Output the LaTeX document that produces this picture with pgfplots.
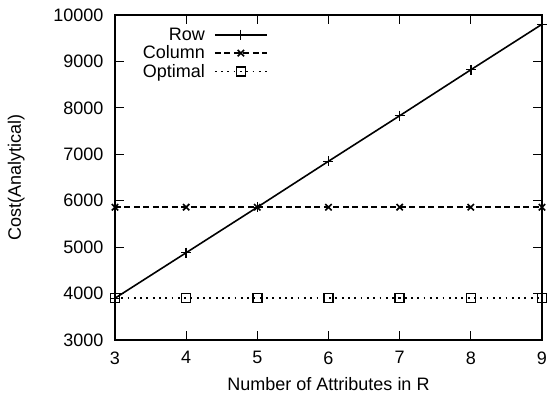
\documentclass[border=0pt]{standalone}
\usepackage{fontspec}
\setmainfont{Liberation Sans}
\usepackage{pgfplots}
\pgfplotsset{compat=1.18}
\begin{document}
\begin{tikzpicture}
\path[use as bounding box] (-115pt,-58pt) rectangle (435pt,340pt);
\begin{axis}[
  scale only axis,
  width=427pt, height=325pt,
  xmin=3, xmax=9, ymin=3000, ymax=10000,
  xtick={3,4,5,6,7,8,9},
  ytick={3000,4000,5000,6000,7000,8000,9000,10000},
  tick align=inside,
  major tick length=9pt,
  tick style={line width=1.2pt, black},
  axis line style={line width=1.5pt},
  /pgf/number format/assume math mode=true,
  /pgf/number format/1000 sep={},
  scaled y ticks=false,
  yticklabel style={xshift=-8pt},
  xticklabel style={yshift=-8pt},
  ticklabel style={font=\fontsize{18}{20}\selectfont},
  label style={font=\fontsize{18}{20}\selectfont},
  xlabel={Number of Attributes in R},
  ylabel={Cost(Analytical)},
  xlabel style={yshift=-6pt},
  ylabel style={yshift=22pt},
  legend cell align=right,
  legend plot pos=right,
  legend style={draw=none, fill=none, at={(0.058,0.97)}, anchor=north west,
    font=\fontsize{18}{20}\selectfont, row sep=0pt, inner sep=1pt,
    /tikz/every odd column/.append style={column sep=7pt}},
  legend image code/.code={\draw[mark repeat=2,mark phase=2] plot coordinates {(0pt,0pt)(26pt,0pt)(52pt,0pt)};},
]
\addplot[black, line width=1.6pt, mark=+, mark size=5pt, mark options={solid,line width=1.4pt}] coordinates {
(3,3900) (4,4880) (5,5860) (6,6850) (7,7830) (8,8820) (9,9800)};
\addlegendentry{Row}
\addplot[black, line width=1.6pt, dash pattern=on 6pt off 3.5pt, mark=x, mark size=4.5pt, mark options={solid,line width=1.6pt}] coordinates {
(3,5860) (4,5860) (5,5860) (6,5860) (7,5860) (8,5860) (9,5860)};
\addlegendentry{Column}
\addplot[black, line width=1.6pt, dash pattern=on 1.8pt off 4.5pt, mark=square, mark size=4.5pt, mark options={solid,line width=1.5pt}] coordinates {
(3,3900) (4,3900) (5,3900) (6,3900) (7,3900) (8,3900) (9,3900)};
\addlegendentry{Optimal}
\end{axis}
\end{tikzpicture}
\end{document}
